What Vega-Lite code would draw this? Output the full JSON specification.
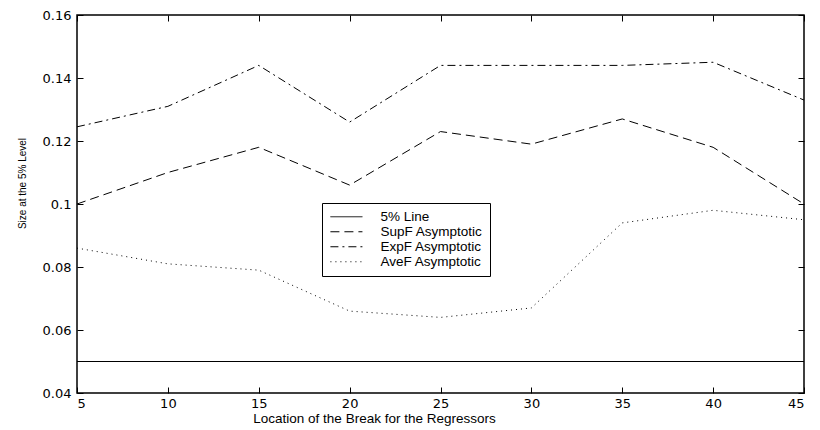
{
  "$schema": "https://vega.github.io/schema/vega-lite/v6.json",
  "autosize": "none",
  "width": 727,
  "height": 378,
  "padding": {"left": 77, "top": 15, "right": 16, "bottom": 37},
  "background": "white",
  "config": {
    "font": "Liberation Sans",
    "view": {"stroke": "black", "strokeWidth": 1.5},
    "axis": {"grid": false, "domain": false, "tickColor": "black", "tickSize": -6, "labelColor": "black", "titleColor": "black", "labelFontSize": 13, "labelFont": "DejaVu Sans", "titleFont": "Liberation Sans", "titleFontWeight": "normal"}
  },
  "data": {"values": [
    {"x": 5, "v": 0.05, "s": "5% Line"},
    {"x": 45, "v": 0.05, "s": "5% Line"},
    {"x": 5, "v": 0.100, "s": "SupF Asymptotic"},
    {"x": 10, "v": 0.110, "s": "SupF Asymptotic"},
    {"x": 15, "v": 0.118, "s": "SupF Asymptotic"},
    {"x": 20, "v": 0.106, "s": "SupF Asymptotic"},
    {"x": 25, "v": 0.123, "s": "SupF Asymptotic"},
    {"x": 30, "v": 0.119, "s": "SupF Asymptotic"},
    {"x": 35, "v": 0.127, "s": "SupF Asymptotic"},
    {"x": 40, "v": 0.118, "s": "SupF Asymptotic"},
    {"x": 45, "v": 0.100, "s": "SupF Asymptotic"},
    {"x": 5, "v": 0.1245, "s": "ExpF Asymptotic"},
    {"x": 10, "v": 0.131, "s": "ExpF Asymptotic"},
    {"x": 15, "v": 0.144, "s": "ExpF Asymptotic"},
    {"x": 20, "v": 0.126, "s": "ExpF Asymptotic"},
    {"x": 25, "v": 0.144, "s": "ExpF Asymptotic"},
    {"x": 30, "v": 0.144, "s": "ExpF Asymptotic"},
    {"x": 35, "v": 0.144, "s": "ExpF Asymptotic"},
    {"x": 40, "v": 0.145, "s": "ExpF Asymptotic"},
    {"x": 45, "v": 0.133, "s": "ExpF Asymptotic"},
    {"x": 5, "v": 0.086, "s": "AveF Asymptotic"},
    {"x": 10, "v": 0.081, "s": "AveF Asymptotic"},
    {"x": 15, "v": 0.079, "s": "AveF Asymptotic"},
    {"x": 20, "v": 0.066, "s": "AveF Asymptotic"},
    {"x": 25, "v": 0.064, "s": "AveF Asymptotic"},
    {"x": 30, "v": 0.067, "s": "AveF Asymptotic"},
    {"x": 35, "v": 0.094, "s": "AveF Asymptotic"},
    {"x": 40, "v": 0.098, "s": "AveF Asymptotic"},
    {"x": 45, "v": 0.095, "s": "AveF Asymptotic"}
  ]},
  "layer": [
    {
      "mark": {"type": "line", "color": "black", "strokeWidth": 1},
      "encoding": {
        "x": {"field": "x", "type": "quantitative", "scale": {"domain": [5, 45], "nice": false, "zero": false},
              "axis": {"orient": "bottom", "values": [5,10,15,20,25,30,35,40,45], "title": "Location of the Break for the Regressors", "titleFontSize": 13.5, "titleX": 297, "titleY": 18, "titleBaseline": "top", "titleAlign": "center", "labelPadding": 10}},
        "y": {"field": "v", "type": "quantitative", "scale": {"domain": [0.04, 0.16], "nice": false, "zero": false},
              "axis": {"orient": "left", "values": [0.04,0.06,0.08,0.1,0.12,0.14,0.16], "format": "~g", "title": "Size at the 5% Level", "titleFontSize": 10, "titleX": -55, "titleY": 168, "titleAngle": -90, "titleAlign": "center", "titleBaseline": "middle", "labelPadding": 12}},
        "strokeDash": {"field": "s", "type": "nominal",
          "scale": {"domain": ["5% Line", "SupF Asymptotic", "ExpF Asymptotic", "AveF Asymptotic"],
                    "range": [[1, 0], [9, 5], [8, 4, 2, 4], [1, 4]]},
          "legend": {"title": null, "orient": "none", "legendX": 245, "legendY": 188, "symbolType": "M-1,0H5", "symbolSize": 114, "symbolStrokeColor": "black", "symbolStrokeWidth": 1, "labelFontSize": 13.5, "labelFont": "Liberation Sans", "labelColor": "black", "strokeColor": "black", "fillColor": "white", "padding": 7, "rowPadding": 0, "labelOffset": 38, "labelLimit": 300}},
        "detail": {"field": "s"}
      }
    },
    {
      "mark": {"type": "line", "opacity": 0},
      "encoding": {
        "x": {"field": "x", "type": "quantitative", "scale": {"domain": [5, 45], "nice": false, "zero": false},
              "axis": {"orient": "top", "values": [5,10,15,20,25,30,35,40,45], "labels": false, "title": null}},
        "y": {"field": "v", "type": "quantitative", "scale": {"domain": [0.04, 0.16], "nice": false, "zero": false},
              "axis": {"orient": "right", "values": [0.04,0.06,0.08,0.1,0.12,0.14,0.16], "labels": false, "title": null}},
        "detail": {"field": "s"}
      }
    }
  ],
  "resolve": {"axis": {"x": "independent", "y": "independent"}}
}
